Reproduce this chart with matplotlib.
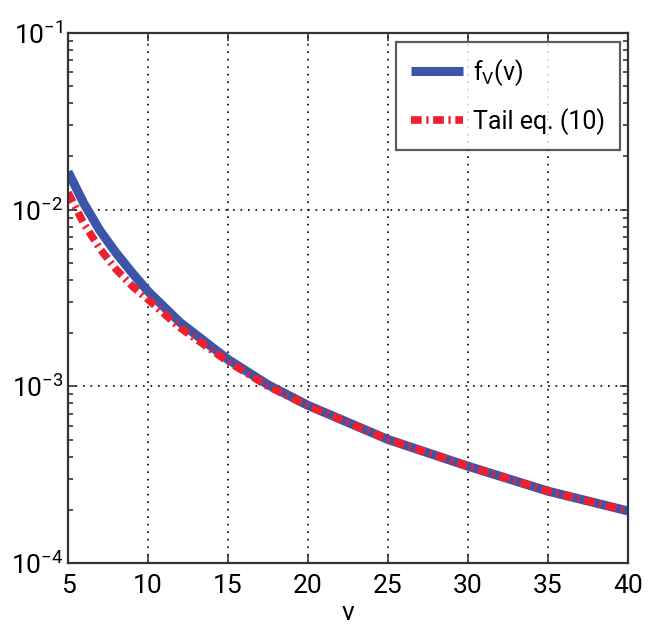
import matplotlib
matplotlib.use("Agg")
import matplotlib.pyplot as plt
import numpy as np

v_f = [5, 6, 7, 8, 9, 10, 12, 15, 17.5, 20, 25, 30, 35, 40]
f_v = [1.64e-2, 1.08e-2, 7.6e-3, 5.7e-3, 4.4e-3, 3.45e-3, 2.3e-3, 1.42e-3, 1.02e-3, 7.8e-4, 5.0e-4, 3.53e-4, 2.55e-4, 1.97e-4]

v_t = [5, 6, 7, 8, 9, 10, 12, 15, 17.5, 20, 25, 30, 35, 40]
tail = [1.25e-2, 8.3e-3, 6.0e-3, 4.6e-3, 3.7e-3, 3.1e-3, 2.15e-3, 1.38e-3, 1.0e-3, 7.75e-4, 5.0e-4, 3.53e-4, 2.55e-4, 1.97e-4]

xticks = [5, 10, 15, 20, 25, 30, 35, 40]

plt.rcParams['font.family'] = ['Roboto', 'DejaVu Sans']
plt.rcParams['mathtext.fontset'] = 'custom'
plt.rcParams['mathtext.rm'] = 'Roboto'
plt.rcParams['mathtext.it'] = 'Roboto'
plt.rcParams['mathtext.default'] = 'regular'

fig = plt.figure(figsize=(6.52, 6.33), dpi=100)
ax = fig.add_axes([0.1043, 0.1106, 0.8589, 0.8373])

ax.plot(v_f, f_v, color='#3b55a8', lw=6.5, solid_capstyle='butt', label=r'f$_V$(v)')
ax.plot(v_t, tail, color='#ee2030', lw=5.5, ls=(0, (1.4, 0.6, 0.3, 0.6)), label='Tail eq. (10)')

ax.set_yscale('log')
ax.set_xlim(5, 40)
ax.set_ylim(1e-4, 1e-1)
ax.set_xticks(xticks)
ax.set_xticklabels([str(t) for t in xticks])
ax.grid(True, which='major', color='black', ls=(0, (1, 3.5)), lw=1.2)
ax.tick_params(which='both', direction='in', top=True, right=True, labelsize=19, width=1.2, color='#333333')
ax.tick_params(which='major', length=6)
ax.tick_params(which='minor', length=3.5)
ax.tick_params(axis='x', pad=8)
for s in ax.spines.values():
    s.set_linewidth(1.6)
    s.set_color('#333333')
ax.set_xlabel('v', fontsize=19, labelpad=2)

leg = ax.legend(loc='upper right', fontsize=18, frameon=True, fancybox=False,
                edgecolor='#333333', handlelength=2.1, borderpad=0.6,
                labelspacing=0.8, handletextpad=0.4, borderaxespad=0,
                bbox_to_anchor=(0.986, 0.983))
leg.get_frame().set_linewidth(1.6)

fig.savefig('out.png', dpi=100)
